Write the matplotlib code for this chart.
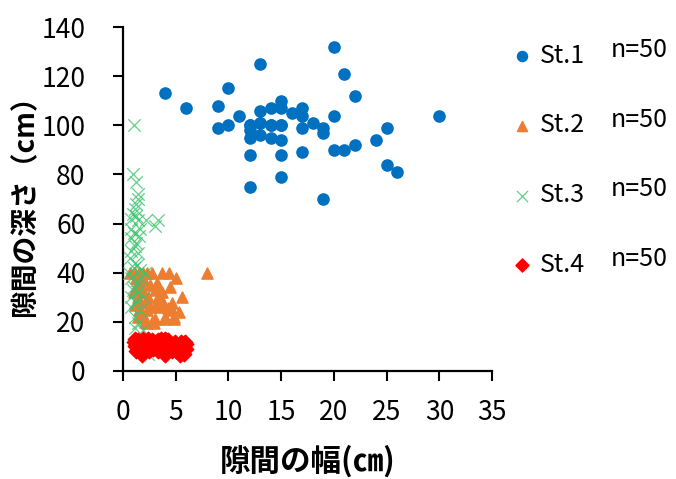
import matplotlib.pyplot as plt
import numpy as np

plt.rcParams['font.family'] = ['Noto Sans CJK JP', 'DejaVu Sans']

# St.1
x1 = [4, 6, 9, 10, 9, 10, 11, 13, 12, 12, 12, 12, 12, 13, 13, 13, 14, 14, 14, 15,
      15, 15, 15, 15, 15, 16, 17, 17, 17, 17, 18, 19, 19, 19, 20, 20, 20, 21, 21, 22,
      22, 24, 25, 25, 26, 30, 12, 14, 15, 13]
y1 = [113, 107, 108, 115, 99, 100, 104, 125, 100, 98, 95, 88, 75, 106, 101, 96, 107, 100, 95, 110,
      107, 100, 94, 88, 79, 105, 107, 104, 99, 89, 101, 99, 97, 70, 132, 104, 90, 121, 90, 112,
      92, 94, 99, 84, 81, 104, 100, 100, 100, 101]

# St.2
x2 = [0.7, 1.1, 1.5, 1.9, 2.3, 2.7, 3.7, 4.4, 8.0, 5.0, 2.6, 4.5, 1.6, 1.2,
      5.6, 3.7, 3.4, 2.4, 1.9, 3.5, 3.8, 4.6, 3.0, 1.6, 2.6, 3.4, 4.3,
      4.6, 2.25, 4.0, 4.8, 3.0, 4.0, 4.8, 2.1, 2.7, 1.4, 1.8, 2.25, 2.9,
      1.2, 1.4, 1.0, 2.0, 3.0, 2.2, 1.5, 5.3, 1.1, 3.2]
y2 = [40, 40, 40, 40, 40, 40, 40, 40, 40, 38, 35, 34, 36, 34,
      30, 32, 31, 30, 32, 30, 27.5, 27.5, 27, 28, 26, 26, 25.5,
      25, 25, 22, 22, 21, 21, 21, 20, 20, 22, 23.5, 19.5, 19.5,
      38, 30, 32, 37, 33, 28, 25, 24, 27, 36]

# St.3
x3 = [1.0, 0.9, 1.2, 1.45, 1.4, 1.1, 0.8, 1.4, 2.2, 3.35, 0.8, 1.6, 3.0, 0.8, 1.1, 0.8, 1.45,
      0.7, 1.1, 1.0, 1.3, 1.6, 2.1, 0.8, 1.3, 1.0, 1.45, 0.8, 1.1, 1.1, 1.45, 1.1, 1.9, 2.4,
      1.2, 0.9, 1.5, 1.2, 0.6, 1.7, 1.4, 0.9, 1.3, 2.0, 1.6, 0.8, 1.9, 1.2, 1.0, 2.6]
y3 = [100, 80, 77, 72, 70, 66, 62, 61.5, 61.5, 61.5, 58, 58, 59, 54, 51, 49, 48,
      46, 44, 42, 43, 41, 40, 38, 37, 34, 32, 30, 28, 22, 19.5, 17.5, 16.5, 7,
      68, 64, 55, 52, 40, 38, 35, 33, 29, 30, 25, 26, 12, 63, 56, 10]

# St.4
x4 = [1.1, 1.1, 1.8, 2.4, 2.4, 3.35, 3.2, 4.0, 4.3, 4.8, 5.4, 5.9, 6.0, 5.4,
      1.0, 1.3, 1.5, 1.6, 2.0, 2.0, 1.7, 2.2, 2.6, 2.8, 2.9, 3.0, 3.5, 3.7, 3.9, 4.1,
      4.4, 4.6, 5.0, 5.2, 5.6, 5.7, 5.8, 6.0, 1.2, 2.5, 3.3, 4.0, 1.9, 1.4, 2.7, 3.6,
      4.9, 5.5, 1.6, 2.3]
y4 = [13, 10, 6.5, 13, 10, 12.5, 10, 6.5, 12.5, 10, 8.5, 12, 9, 6.5,
      12, 11, 9, 12, 11, 8, 7.5, 12, 11, 9, 12, 10, 9, 11, 12, 10,
      11, 8, 8, 10, 11, 9, 7, 11, 8, 8, 8, 13, 13, 12.5, 12.5, 13,
      12, 12, 10, 9.5]

labels = ['St.1', 'St.2', 'St.3', 'St.4']
counts = ['n=50', 'n=50', 'n=50', 'n=50']

fig = plt.figure(figsize=(6.76, 4.79), dpi=100)
ax = fig.add_axes([0.182, 0.2255, 0.546, 0.718])

ax.scatter(x1, y1, s=65, marker='o', color='#0070C0', label=labels[0], zorder=2)
ax.scatter(x2, y2, s=65, marker='^', color='#ED7D31', label=labels[1], zorder=3)
ax.scatter(x3, y3, s=80, marker='x', color='#3CC46E', linewidths=0.9, alpha=0.8,
           label=labels[2], zorder=4)
ax.scatter(x4, y4, s=55, marker='D', color='#FF0000', label=labels[3], zorder=5)

ax.set_xlim(0, 35)
ax.set_ylim(0, 140)
ax.set_xticks(np.arange(0, 36, 5))
ax.set_yticks(np.arange(0, 141, 20))
for side in ['top', 'right']:
    ax.spines[side].set_visible(False)
for side in ['left', 'bottom']:
    ax.spines[side].set_linewidth(1.6)
ax.tick_params(direction='out', length=7, width=1.5, labelsize=19)
ax.tick_params(axis='y', pad=20)
ax.tick_params(axis='x', pad=13)

ax.set_xlabel('隙間の幅(㎝)', fontsize=22, fontweight='bold', labelpad=14)
ax.set_ylabel('隙間の深さ（cm）', fontsize=20, fontweight='bold', labelpad=2)

leg = ax.legend(loc='upper left', bbox_to_anchor=(0.993, 1.02), frameon=False,
                fontsize=18, labelspacing=1.75, handletextpad=0.3, handlelength=0.8,
                markerscale=0.9, scatterpoints=1)

# sample counts next to the legend entries
fig.canvas.draw()
for txt, n in zip(leg.get_texts(), counts):
    bb = txt.get_window_extent()
    fig.text(0.903, (bb.y0 + bb.y1) / 2 / fig.bbox.height + 0.012, n,
             fontsize=18, va='center', ha='left')

fig.savefig('out.png', dpi=100)
